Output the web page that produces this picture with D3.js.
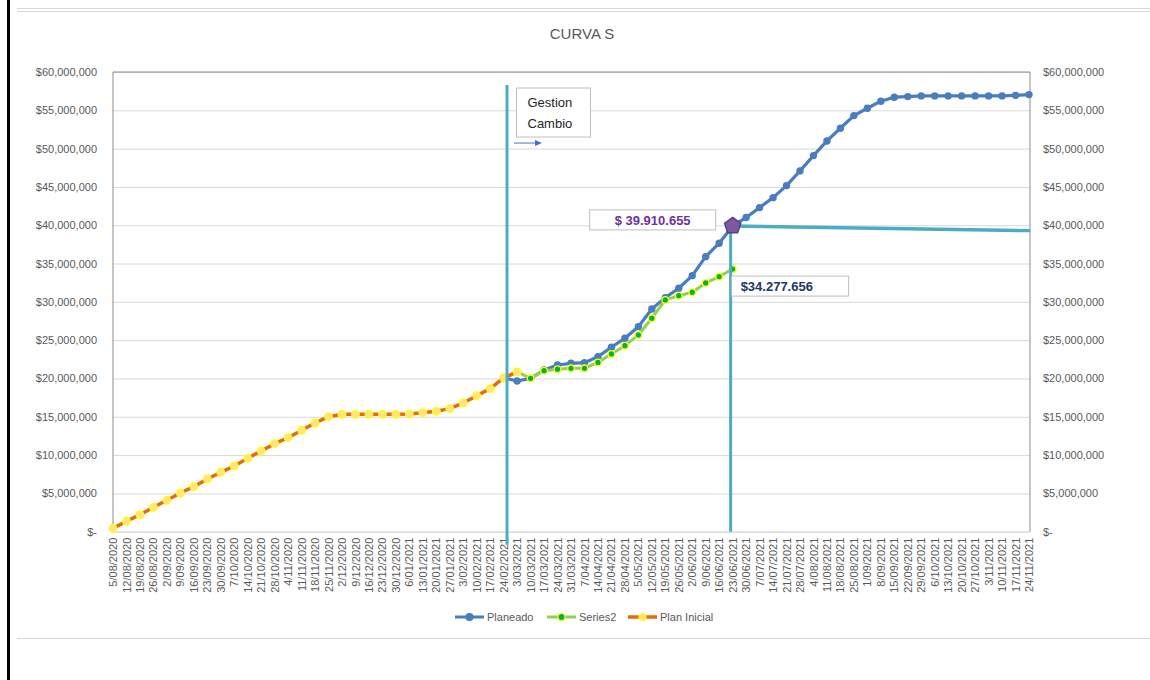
<!DOCTYPE html>
<html>
<head>
<meta charset="utf-8">
<script src="https://cdn.jsdelivr.net/npm/d3@7"></script>
<style>
  html, body { margin: 0; padding: 0; background: #fff; }
  svg { display: block; font-family: "Liberation Sans", Arial, sans-serif; }
</style>
</head>
<body>
<svg id="chart" width="1150" height="680"></svg>
<script>
// ---------- DATA ----------
const dates = ["5/08/2020","12/08/2020","19/08/2020","26/08/2020","2/09/2020","9/09/2020","16/09/2020","23/09/2020","30/09/2020","7/10/2020","14/10/2020","21/10/2020","28/10/2020","4/11/2020","11/11/2020","18/11/2020","25/11/2020","2/12/2020","9/12/2020","16/12/2020","23/12/2020","30/12/2020","6/01/2021","13/01/2021","20/01/2021","27/01/2021","3/02/2021","10/02/2021","17/02/2021","24/02/2021","3/03/2021","10/03/2021","17/03/2021","24/03/2021","31/03/2021","7/04/2021","14/04/2021","21/04/2021","28/04/2021","5/05/2021","12/05/2021","19/05/2021","26/05/2021","2/06/2021","9/06/2021","16/06/2021","23/06/2021","30/06/2021","7/07/2021","14/07/2021","21/07/2021","28/07/2021","4/08/2021","11/08/2021","18/08/2021","25/08/2021","1/09/2021","8/09/2021","15/09/2021","22/09/2021","29/09/2021","6/10/2021","13/10/2021","20/10/2021","27/10/2021","3/11/2021","10/11/2021","17/11/2021","24/11/2021"];

// Plan Inicial: indices 0..30 (millions)
const planInicial = [0.44,1.36,2.22,3.18,4.10,5.05,5.88,6.88,7.75,8.58,9.58,10.54,11.49,12.27,13.24,14.19,15.01,15.32,15.32,15.32,15.32,15.32,15.37,15.54,15.71,16.06,16.80,17.75,18.67,20.07,20.85];
const planInicialStart = 0;

// Planeado: indices 29..68 (millions)
const planeado = [20.07,19.67,20.02,21.10,21.76,21.98,22.06,22.85,24.07,25.25,26.76,29.07,30.55,31.77,33.42,35.90,37.65,39.91,41.00,42.30,43.60,45.17,47.09,49.09,51.00,52.66,54.31,55.27,56.19,56.71,56.79,56.88,56.88,56.88,56.88,56.88,56.88,56.88,56.95,57.05];
const planeadoStart = 29;

// Series2: indices 30..46 (millions)
const series2 = [20.85,20.02,21.02,21.20,21.33,21.33,22.10,23.20,24.28,25.68,27.86,30.25,30.80,31.25,32.47,33.29,34.28];
const series2Start = 30;

const yTicks = [0,5,10,15,20,25,30,35,40,45,50,55,60];
const legendNames = ["Planeado","Series2","Plan Inicial"];

// annotations
const cutIndex = 46;                 // 23/06/2021
const cutLineIndex = 45.85;          // drawn vertical line position
const cutPlaneado = 39.910655;
const cutSeries2 = 34.277656;
const cutLineEnd = 39.3;
const gestionIndex = 29.25;
const gestionTop = 58.3;

(function draw() {
const M = 1e6;
const svg = d3.select("#chart");
const pLeft = 113, pRight = 1030, pTop = 72, pBottom = 531.7;
const x = d3.scalePoint().domain(d3.range(dates.length)).range([pLeft, pRight - 1]);
const step = x.step();
const xf = v => pLeft + v * step;
const y = d3.scaleLinear().domain([0, 60*M]).range([pBottom, pTop]);

const colBlue = "#4A7DC0", colGreen = "#92D050", colOrange = "#E46C0A", colTeal = "#4BACC6";
const textCol = "#595959";
const FF = "Liberation Sans, Arial, sans-serif";

// outer frame
svg.append("line").attr("x1", 8.5).attr("x2", 8.5).attr("y1", 0).attr("y2", 680).attr("stroke", "#000").attr("stroke-width", 3);
svg.append("line").attr("x1", 17).attr("x2", 1150).attr("y1", 8.5).attr("y2", 8.5).attr("stroke", "#d9d9d9");
svg.append("line").attr("x1", 17).attr("x2", 1150).attr("y1", 11.5).attr("y2", 11.5).attr("stroke", "#d9d9d9");
svg.append("line").attr("x1", 17).attr("x2", 1150).attr("y1", 638.5).attr("y2", 638.5).attr("stroke", "#d9d9d9");

// title
svg.append("text").attr("x", 582).attr("y", 39).attr("text-anchor", "middle")
  .attr("font-size", 15).attr("fill", textCol).text("CURVA S");

// gridlines
const fmt = v => v === 0 ? "$-" : "$" + d3.format(",")(v);
svg.append("g").attr("transform", `translate(${pLeft},0)`)
  .call(d3.axisLeft(y).tickValues(yTicks.map(v => v*M)).tickSize(-(pRight-pLeft)).tickFormat(""))
  .call(g => g.select(".domain").remove())
  .call(g => g.selectAll(".tick line").attr("stroke", "#d9d9d9"));

// plot border
svg.append("path").attr("d", `M${pLeft},${pBottom}V${pTop}H${pRight}V${pBottom}`)
  .attr("fill", "none").attr("stroke", "#8c8c8c").attr("stroke-width", 1);

// y axes
svg.append("g").attr("transform", `translate(${pLeft},0)`)
  .call(d3.axisLeft(y).tickValues(yTicks.map(v => v*M)).tickSize(0).tickPadding(16).tickFormat(fmt))
  .call(g => g.select(".domain").remove())
  .call(g => g.selectAll("text").attr("fill", textCol).attr("font-size", 11).attr("font-family", FF));
svg.append("g").attr("transform", `translate(${pRight},0)`)
  .call(d3.axisRight(y).tickValues(yTicks.map(v => v*M)).tickSize(0).tickPadding(13).tickFormat(fmt))
  .call(g => g.select(".domain").remove())
  .call(g => g.selectAll("text").attr("fill", textCol).attr("font-size", 11).attr("font-family", FF));

// x axis
svg.append("g").attr("transform", `translate(0,${pBottom})`)
  .call(d3.axisBottom(x).tickSize(0).tickFormat(i => dates[i]))
  .call(g => g.select(".domain").attr("stroke", "#d9d9d9"))
  .call(g => g.selectAll("text")
      .attr("fill", textCol).attr("font-size", 11).attr("font-family", FF)
      .attr("transform", "rotate(-90)")
      .attr("text-anchor", "end").attr("dx", "-6").attr("dy", "0.32em").attr("y", 0).attr("x", 0));

// series
function seriesData(vals, start) { return vals.map((v, i) => ({i: start + i, v: v*M})); }
const line = d3.line().x(d => x(d.i)).y(d => y(d.v));

const dPlan = seriesData(planeado, planeadoStart);
const dS2 = seriesData(series2, series2Start);
const dIni = seriesData(planInicial, planInicialStart);

svg.append("path").datum(dPlan).attr("d", line).attr("fill", "none").attr("stroke", colBlue).attr("stroke-width", 3.2).attr("stroke-linejoin", "round");
svg.append("g").selectAll("circle").data(dPlan).join("circle")
  .attr("cx", d => x(d.i)).attr("cy", d => y(d.v)).attr("r", 3.7).attr("fill", colBlue);

svg.append("path").datum(dS2).attr("d", line).attr("fill", "none").attr("stroke", colGreen).attr("stroke-width", 3).attr("stroke-linejoin", "round");
svg.append("g").selectAll("circle").data(dS2).join("circle")
  .attr("cx", d => x(d.i)).attr("cy", d => y(d.v)).attr("r", 3.3).attr("fill", "#00B050").attr("stroke", "#FFFF00").attr("stroke-width", 1.3);

svg.append("path").datum(dIni).attr("d", line).attr("fill", "none").attr("stroke", colOrange).attr("stroke-width", 3.5).attr("stroke-linejoin", "round");
svg.append("g").selectAll("circle").data(dIni).join("circle")
  .attr("cx", d => x(d.i)).attr("cy", d => y(d.v)).attr("r", 3.8).attr("fill", "#FFE28A").attr("stroke", "#FFFF00").attr("stroke-width", 1.3);

// annotation lines
svg.append("line").attr("x1", xf(gestionIndex)).attr("x2", xf(gestionIndex))
  .attr("y1", y(gestionTop*M)).attr("y2", pBottom + 13).attr("stroke", colTeal).attr("stroke-width", 3);
svg.append("line").attr("x1", xf(cutLineIndex)).attr("x2", xf(cutLineIndex))
  .attr("y1", y(cutPlaneado*M)).attr("y2", pBottom).attr("stroke", colTeal).attr("stroke-width", 3);
svg.append("line").attr("x1", x(cutIndex)).attr("x2", pRight)
  .attr("y1", y(cutPlaneado*M)).attr("y2", y(cutLineEnd*M)).attr("stroke", colTeal).attr("stroke-width", 3.5);

// pentagon marker
const pr = 8.5;
const pent = d3.range(5).map(k => {
  const a = -Math.PI/2 + k * 2*Math.PI/5;
  return [x(cutIndex) + pr*Math.cos(a), y(cutPlaneado*M) + pr*Math.sin(a)];
});
svg.append("path").attr("d", "M" + pent.join("L") + "Z")
  .attr("fill", "#7A5C9E").attr("stroke", "#5E3F80").attr("stroke-width", 1.5);

// Gestion Cambio box
const gx = xf(gestionIndex) + 9.5, gy = y(gestionTop*M) + 3;
svg.append("rect").attr("x", gx).attr("y", gy).attr("width", 74).attr("height", 49)
  .attr("fill", "#fff").attr("stroke", "#bfbfbf");
svg.append("text").attr("x", gx + 11).attr("y", gy + 19).attr("font-size", 13).attr("fill", "#262626").text("Gestion");
svg.append("text").attr("x", gx + 11).attr("y", gy + 40).attr("font-size", 13).attr("fill", "#262626").text("Cambio");
const ay = gy + 55;
svg.append("line").attr("x1", xf(gestionIndex) + 7).attr("x2", xf(gestionIndex) + 30)
  .attr("y1", ay).attr("y2", ay).attr("stroke", "#4472C4").attr("stroke-width", 1);
svg.append("path").attr("d", `M${xf(gestionIndex)+35},${ay} l-7,-3 v6 Z`).attr("fill", "#4472C4");

// value labels
const b1x = x(cutIndex) - 143, b1y = y(cutPlaneado*M) - 16;
svg.append("rect").attr("x", b1x).attr("y", b1y).attr("width", 126).attr("height", 20)
  .attr("fill", "#fff").attr("stroke", "#bfbfbf");
svg.append("text").attr("x", b1x + 63).attr("y", b1y + 15).attr("text-anchor", "middle")
  .attr("font-size", 13).attr("font-weight", "bold").attr("fill", "#7030A0").text("$ 39.910.655");

const b2x = xf(cutLineIndex) + 1, b2y = y(cutSeries2*M) + 7;
svg.append("rect").attr("x", b2x).attr("y", b2y).attr("width", 117).attr("height", 20)
  .attr("fill", "#fff").attr("stroke", "#bfbfbf");
svg.append("text").attr("x", b2x + 9).attr("y", b2y + 15)
  .attr("font-size", 13).attr("font-weight", "bold").attr("fill", "#203864").text("$34.277.656");

// legend
const legendX = [455, 547, 628];
const legendStyle = [
  {stroke: colBlue, fill: colBlue, mstroke: colBlue, w: 3},
  {stroke: colGreen, fill: "#00B050", mstroke: "#FFFF00", w: 3},
  {stroke: colOrange, fill: "#FFE28A", mstroke: "#FFFF00", w: 3.5}
];
const ly = 617;
legendNames.forEach((n, k) => {
  const g = svg.append("g");
  const s = legendStyle[k];
  g.append("line").attr("x1", legendX[k]).attr("x2", legendX[k] + 29).attr("y1", ly).attr("y2", ly)
    .attr("stroke", s.stroke).attr("stroke-width", s.w);
  g.append("circle").attr("cx", legendX[k] + 14.5).attr("cy", ly).attr("r", 3.5)
    .attr("fill", s.fill).attr("stroke", s.mstroke).attr("stroke-width", 1.2);
  g.append("text").attr("x", legendX[k] + 32).attr("y", ly + 4).attr("font-size", 11).attr("fill", textCol).text(n);
});
})();
</script>
</body>
</html>
